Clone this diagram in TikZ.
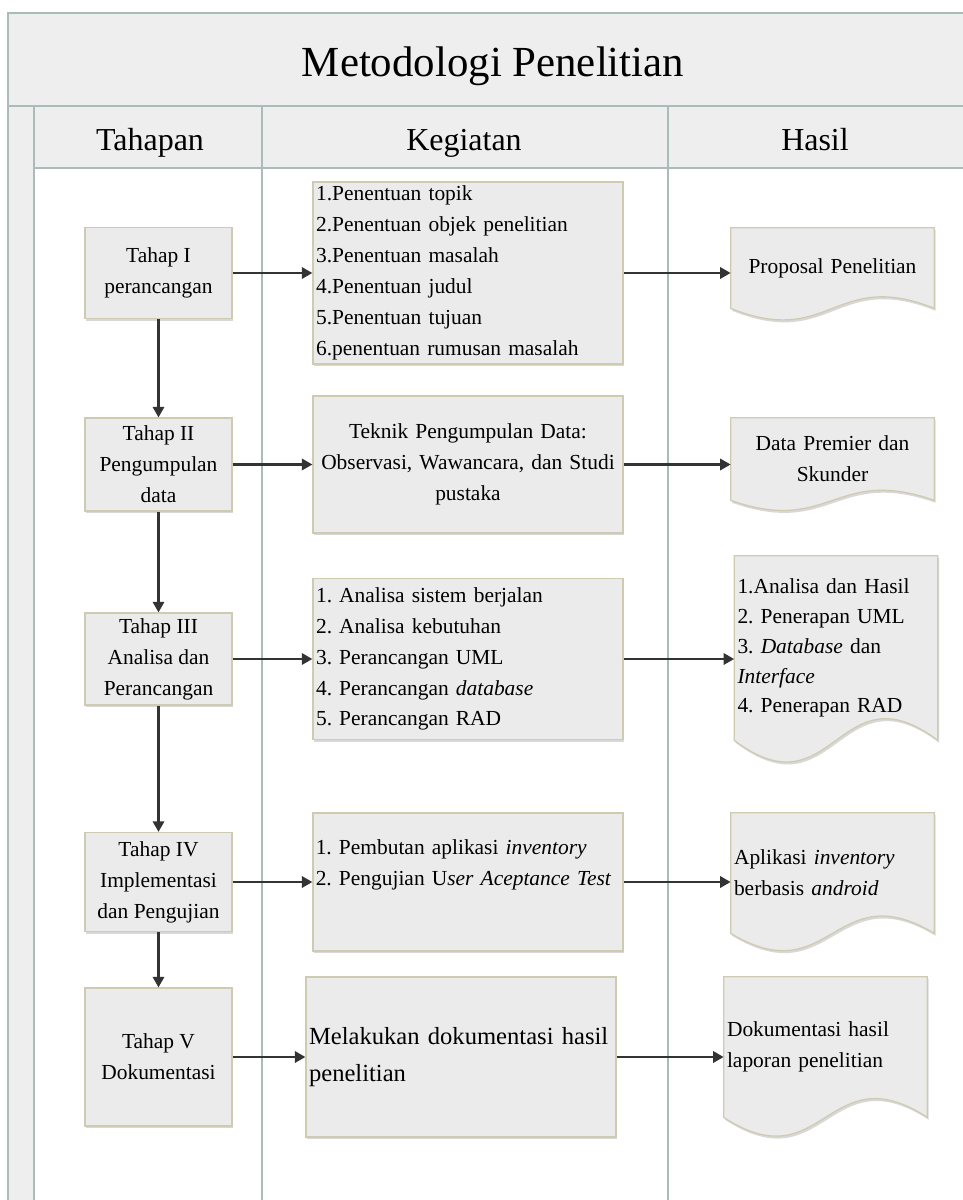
\documentclass[tikz,border=0pt]{standalone}
\usepackage{fontspec}
\setmainfont{Liberation Serif}
\usetikzlibrary{arrows.meta,positioning,shadows}
\pgfdeclarelayer{bg}
\pgfdeclarelayer{docs}
\pgfsetlayers{bg,docs,main}
\definecolor{boxfill}{HTML}{EBEBEB}
\definecolor{boxline}{HTML}{CFCBB2}
\definecolor{laneline}{HTML}{A9BCB9}
\definecolor{lanefill}{HTML}{EEEEEE}
\definecolor{arrowgray}{HTML}{333333}
\frenchspacing

\begin{document}
\begin{tikzpicture}[
    x=0.02cm, y=-0.02cm,
    every node/.style={font=\fontsize{12.2}{17.6}\selectfont},
    lane/.style={draw=laneline, line width=1.3pt},
    softshadow/.style={drop shadow={opacity=0.3, shadow xshift=0.8pt, shadow yshift=-1.4pt}},
    box/.style={rectangle, draw=boxline, line width=0.7pt, fill=boxfill, softshadow, inner xsep=0.06cm, inner ysep=1pt},
    stage/.style={box, minimum width=2.94cm, align=center},
    task/.style={box, text width=6.08cm, align=left},
    doc/.style={rectangle, inner xsep=0.06cm, inner ysep=1pt, text width=3.94cm},
    docshape/.style={draw=boxline, line width=0.7pt, fill=boxfill, softshadow},
    headtext/.style={font=\fontsize{18.2}{22}\selectfont, anchor=base},
    titletext/.style={font=\fontsize{24.4}{29}\selectfont, anchor=base},
    arrow/.style={-{Triangle[length=6pt, width=6.4pt]}, line width=1.4pt, draw=arrowgray}
]
    \useasboundingbox (0,0) rectangle (963,1200);

    \begin{pgfonlayer}{bg}
        \fill[white] (0,0) rectangle (963,1200);
        \fill[lanefill] (8,13) rectangle (975,106);
        \fill[lanefill] (8,106) rectangle (34,1210);
        \fill[lanefill] (34,106) rectangle (975,168);
        \draw[lane] (975,13) -- (8,13) -- (8,1210);
        \draw[lane] (8,106) -- (975,106);
        \draw[lane] (34,168) -- (975,168);
        \foreach \x in {34,262,668}
            \draw[lane] (\x,106) -- (\x,1210);
    \end{pgfonlayer}

    \node[titletext] (title) at (493,76) {Metodologi Penelitian};
    \node[headtext] (htahapan) at (150,150) {Tahapan};
    \node[headtext] (hkegiatan) at (464,150) {Kegiatan};
    \node[headtext] (hhasil) at (815,150) {Hasil};

    \node[stage, minimum height=1.82cm] (t1) at (158.5,273) {Tahap I\\perancangan};
    \node[stage, minimum height=1.86cm] (t2) at (158.5,464.5) {Tahap II\\Pengumpulan\\data};
    \node[stage, minimum height=1.84cm] (t3) at (158.5,659) {Tahap III\\Analisa dan\\Perancangan};
    \node[stage, minimum height=1.98cm] (t4) at (158.5,882) {Tahap IV\\Implementasi\\dan Pengujian};
    \node[stage, minimum height=2.76cm] (t5) at (158.5,1057) {Tahap V\\Dokumentasi};

    \node[task, minimum height=3.64cm] (k1) at (468,273) {1.Penentuan topik\\2.Penentuan objek penelitian\\3.Penentuan masalah\\4.Penentuan judul\\5.Penentuan tujuan\\6.penentuan rumusan masalah};
    \node[task, minimum height=2.74cm, align=center] (k2) at (468,464.5) {Teknik Pengumpulan Data:\\Observasi, Wawancara, dan Studi\\pustaka};
    \node[task, minimum height=3.22cm] (k3) at (468,659) {1. Analisa sistem berjalan\\2. Analisa kebutuhan\\3. Perancangan UML\\4. Perancangan \textit{database}\\5. Perancangan RAD};
    \node[task, minimum height=2.76cm] (k4) at (468,882) {};
    \node[anchor=west, text width=6.08cm, inner xsep=0.06cm, align=left] (k4text) at ([yshift=0.34cm]k4.west) {1. Pembutan aplikasi \textit{inventory}\\2. Pengujian U\textit{ser Aceptance Test}};
    \node[task, minimum height=3.2cm, font=\fontsize{14}{21}\selectfont] (k5) at (461,1057) {Melakukan dokumentasi hasil\\penelitian};

    \node[doc, minimum height=1.6cm, align=center] (h1) at (832.5,268) {Proposal Penelitian};
    \node[doc, minimum height=1.64cm, align=center] (h2) at (832.5,459) {Data Premier dan\\Skunder};
    \node[doc, minimum height=3.68cm, align=left, font=\fontsize{12.2}{17}\selectfont] (h3) at (836,648) {1.Analisa dan Hasil\\2. Penerapan UML\\3. \textit{Database} dan\\\textit{Interface}\\4. Penerapan RAD};
    \node[doc, minimum height=2.4cm, align=left] (h4) at (832.5,873) {Aplikasi \textit{inventory}\\berbasis \textit{android}};
    \node[doc, minimum height=2.8cm, align=left] (h5) at (825.5,1047) {Dokumentasi hasil\\laporan penelitian};

    \begin{pgfonlayer}{docs}
        \foreach \d/\a in {h1/40,h2/35,h3/75,h4/60,h5/65}
            \path[docshape] (\d.south west) -- (\d.north west) -- (\d.north east) -- (\d.south east)
                .. controls +(-100,-\a) and +(100,\a) .. (\d.south west) -- cycle;
    \end{pgfonlayer}

    \draw[arrow] (t1) -- (t2);
    \draw[arrow] (t2) -- (t3);
    \draw[arrow] (t3) -- (t4);
    \draw[arrow] (t4) -- (t5);
    \foreach \i in {1,...,5} {
        \draw[arrow] (t\i) -- (k\i);
        \draw[arrow] (k\i) -- (k\i -| h\i.west);
    }
\end{tikzpicture}
\end{document}
